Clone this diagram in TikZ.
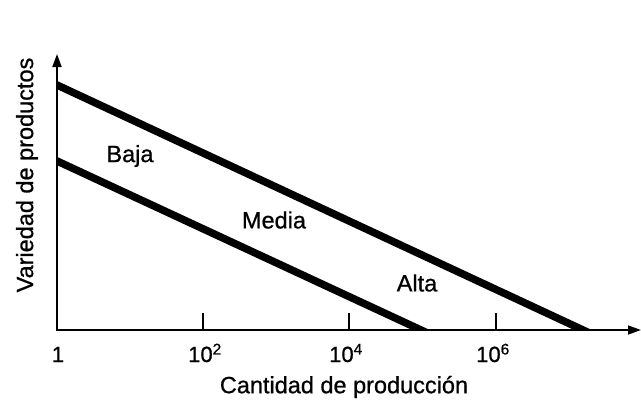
\documentclass[tikz,border=0pt]{standalone}
\usepackage{fontspec}
\setmainfont[FakeBold=0.8]{Liberation Sans}
\usetikzlibrary{arrows.meta,calc}
\begin{document}
\begin{tikzpicture}[x=1pt,y=-1pt,
  axisline/.style={line width=1.8pt,-{Triangle[length=13pt,width=9pt]}},
  curveline/.style={line width=7.5pt,line cap=butt},
  tickmark/.style={line width=1.4pt},
  lbl/.style={font=\fontsize{23.5}{28}\selectfont,inner sep=0pt},
  ticklbl/.style={font=\fontsize{22}{26}\selectfont,inner sep=0pt,anchor=base}]
\useasboundingbox (0,0) rectangle (641,402);
\coordinate (O) at (57,330);
\coordinate (Xend) at (641,330);
\coordinate (Ytop) at (57,54);
% lines
\coordinate (A1) at (57,85);
\coordinate (A2) at (583,330);
\coordinate (B1) at (57,161);
\coordinate (B2) at (421,330);
\begin{scope}
\clip (57,0) rectangle (641,330);
\draw[curveline] ($(A1)!-0.02!(A2)$) -- ($(A1)!1.02!(A2)$);
\draw[curveline] ($(B1)!-0.03!(B2)$) -- ($(B1)!1.03!(B2)$);
\end{scope}
\draw[axisline] (O) -- (Xend);
\draw[axisline] ($(O)+(0,0.9)$) -- (Ytop);
% ticks
\coordinate (T2) at (203,330);
\coordinate (T4) at (349,330);
\coordinate (T6) at (496,330);
\draw[tickmark] (T2) -- ++(0,-17);
\draw[tickmark] (T4) -- ++(0,-17);
\draw[tickmark] (T6) -- ++(0,-17);
\node[ticklbl] (L0) at (58,362) {1};
\node[ticklbl] (L2) at (205,362) {10\textsuperscript{2}};
\node[ticklbl] (L4) at (346,362) {10\textsuperscript{4}};
\node[ticklbl] (L6) at (493,362) {10\textsuperscript{6}};
\node[lbl] (xl) at (344,387) {Cantidad de producción};
\node[lbl,rotate=90] (yl) at (27,175) {Variedad de productos};
\node[lbl] (baja) at (130,156) {Baja};
\node[lbl] (media) at (274,220) {Media};
\node[lbl] (alta) at (417,283) {Alta};
\end{tikzpicture}
\end{document}
